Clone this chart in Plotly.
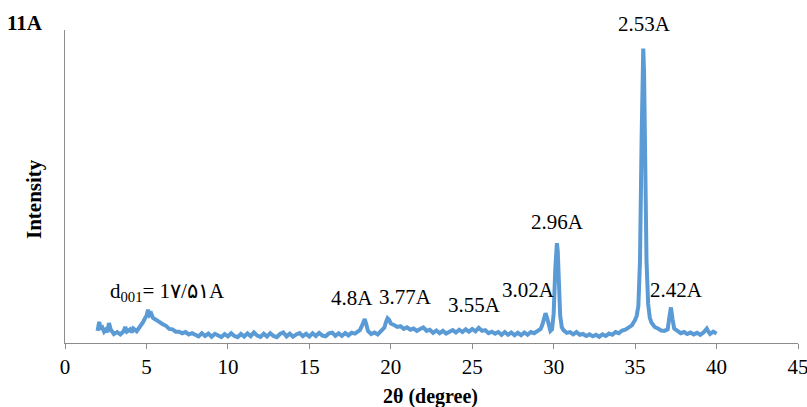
import plotly.graph_objects as go

# ---------------- data ----------------
two_theta = [
    2.0, 2.1, 2.2, 2.3, 2.4, 2.5, 2.6, 2.7, 2.8, 2.9,
    3.0, 3.2, 3.4, 3.6, 3.7, 3.8, 4.0, 4.1, 4.2, 4.4,
    4.6, 4.8, 4.9, 5.0, 5.1, 5.2, 5.3, 5.4, 5.6, 5.8,
    6.0, 6.2, 6.4, 6.6, 6.8, 7.0, 7.2, 7.4, 7.6, 7.8,
    8.0, 8.2, 8.4, 8.6, 8.8, 9.0, 9.2, 9.4, 9.6, 9.8,
    10.0, 10.2, 10.4, 10.6, 10.8, 11.0, 11.2, 11.4, 11.6, 11.8,
    12.0, 12.2, 12.4, 12.6, 12.8, 13.0, 13.2, 13.4, 13.6, 13.8,
    14.0, 14.2, 14.4, 14.6, 14.8, 15.0, 15.2, 15.4, 15.6, 15.8,
    16.0, 16.2, 16.4, 16.6, 16.8, 17.0, 17.2, 17.4, 17.6, 17.8,
    18.0, 18.1, 18.2, 18.3, 18.4, 18.5, 18.6, 18.8, 19.0, 19.2,
    19.4, 19.6, 19.7, 19.8, 19.9, 20.0, 20.2, 20.4, 20.6, 20.8,
    21.0, 21.2, 21.4, 21.6, 21.8, 22.0, 22.2, 22.4, 22.6, 22.8,
    23.0, 23.2, 23.4, 23.6, 23.8, 24.0, 24.2, 24.4, 24.6, 24.8,
    25.0, 25.2, 25.4, 25.6, 25.8, 26.0, 26.2, 26.4, 26.6, 26.8,
    27.0, 27.2, 27.4, 27.6, 27.8, 28.0, 28.2, 28.4, 28.6, 28.8,
    29.0, 29.2, 29.3, 29.4, 29.5, 29.6, 29.7, 29.8, 29.9, 30.0,
    30.1, 30.2, 30.25, 30.3, 30.4, 30.5, 30.6, 30.8, 31.0, 31.2,
    31.4, 31.6, 31.8, 32.0, 32.2, 32.4, 32.6, 32.8, 33.0, 33.2,
    33.4, 33.6, 33.8, 34.0, 34.2, 34.4, 34.6, 34.8, 35.0, 35.1,
    35.2, 35.3, 35.4, 35.45, 35.5, 35.55, 35.6, 35.7, 35.8, 35.9,
    36.0, 36.2, 36.4, 36.6, 36.8, 37.0, 37.1, 37.2, 37.3, 37.4,
    37.6, 37.8, 38.0, 38.2, 38.4, 38.6, 38.8, 39.0, 39.2, 39.4,
    39.5, 39.6, 39.8, 40.0,
]
intensity = [
    62, 108, 70, 78, 58, 68, 56, 102, 70, 54,
    46, 56, 44, 60, 82, 58, 70, 54, 74, 60,
    82, 108, 125, 138, 170, 142, 150, 128, 118, 105,
    96, 88, 72, 70, 58, 58, 50, 56, 44, 50,
    40, 34, 50, 36, 48, 32, 47, 37, 30, 46,
    34, 50, 36, 30, 46, 33, 49, 35, 54, 38,
    31, 47, 33, 50, 36, 30, 46, 54, 34, 48,
    32, 44, 51, 35, 47, 33, 50, 36, 52, 38,
    34, 49, 53, 37, 50, 36, 51, 39, 53, 48,
    60, 66, 82, 110, 122, 95, 62, 46, 54, 44,
    60, 78, 105, 126, 118, 100, 92, 82, 86, 72,
    80, 68, 74, 62, 72, 80, 62, 68, 52, 64,
    50, 62, 48, 60, 66, 54, 68, 56, 70, 58,
    72, 60, 78, 62, 66, 50, 58, 48, 56, 42,
    56, 42, 54, 40, 52, 40, 54, 42, 56, 50,
    62, 72, 92, 130, 152, 128, 82, 62, 70, 150,
    380, 510, 470, 300, 140, 80, 66, 52, 56, 44,
    56, 42, 46, 36, 44, 34, 42, 32, 44, 36,
    48, 42, 56, 50, 64, 68, 80, 90, 118, 140,
    190, 420, 1050, 1400, 1505, 1380, 980, 420, 200, 130,
    105, 82, 74, 64, 62, 70, 130, 182, 120, 74,
    62, 50, 56, 46, 54, 44, 52, 42, 54, 74,
    58, 46, 58, 48,
]

x_ticks = [0, 5, 10, 15, 20, 25, 30, 35, 40, 45]

peak_labels = ["d<sub>001</sub>= 1۷/۵۱A", "4.8A", "3.77A", "3.55A", "3.02A", "2.96A", "2.42A"]
label_x = [6.27, 17.64, 20.9, 25.14, 28.46, 30.25, 37.53]
label_y = [261, 230, 235, 194, 271, 619, 273]
top_label = "2.53A"
top_label_x = 35.56

# ---------------- figure ----------------
FONT = "Liberation Serif, Times New Roman, serif"
LINE_BLUE = "#5B9BD5"
AXIS_GREY = "#8C8C8C"

L, R, T, B = 65, 9, 30, 64
W, H = 807, 407
PW, PH = W - L - R, H - T - B


def px(xp):
    return (xp - L) / PW


def py(yp):
    return (H - B - yp) / PH


fig = go.Figure()
fig.add_trace(go.Scatter(
    x=two_theta, y=intensity, mode="lines",
    line=dict(color=LINE_BLUE, width=4),
    hoverinfo="x+y", showlegend=False,
))

for txt, lx, ly in zip(peak_labels, label_x, label_y):
    fig.add_annotation(x=lx, y=ly, xref="x", yref="y", text=txt,
                       showarrow=False, xanchor="center", yanchor="middle",
                       font=dict(family=FONT, size=21, color="black"))

fig.add_annotation(x=top_label_x, y=py(24), xref="x", yref="paper", text=top_label,
                   showarrow=False, xanchor="center", yanchor="middle",
                   font=dict(family=FONT, size=21, color="black"))

fig.add_annotation(x=px(25), y=py(23), xref="paper", yref="paper", text="<b>11A</b>",
                   xanchor="center", yanchor="middle", showarrow=False,
                   font=dict(family=FONT, size=21, color="black"))
fig.add_annotation(x=px(34), y=py(199), xref="paper", yref="paper",
                   text="<b>Intensity</b>", textangle=-90, showarrow=False,
                   xanchor="center", yanchor="middle",
                   font=dict(family=FONT, size=21, color="black"))
fig.add_annotation(x=px(430), y=py(396), xref="paper", yref="paper",
                   text="<b>2θ (degree)</b>", showarrow=False,
                   xanchor="center", yanchor="middle",
                   font=dict(family=FONT, size=20, color="black"))

fig.update_layout(
    width=W, height=H,
    margin=dict(l=L, r=R, t=T, b=B, autoexpand=False),
    paper_bgcolor="white", plot_bgcolor="white",
    xaxis=dict(range=[0, 45], tickvals=x_ticks, ticktext=[str(t) for t in x_ticks],
               showline=True, linecolor=AXIS_GREY, linewidth=1,
               ticks="outside", ticklen=5, tickcolor=AXIS_GREY,
               showgrid=False, zeroline=False, ticklabeloverflow="allow",
               automargin=False,
               tickfont=dict(family=FONT, size=21, color="black")),
    yaxis=dict(range=[0, 1600], showline=True, linecolor=AXIS_GREY, linewidth=1,
               showticklabels=False, ticks="", showgrid=False, zeroline=False,
               automargin=False),
)

fig.write_html("out.html")
